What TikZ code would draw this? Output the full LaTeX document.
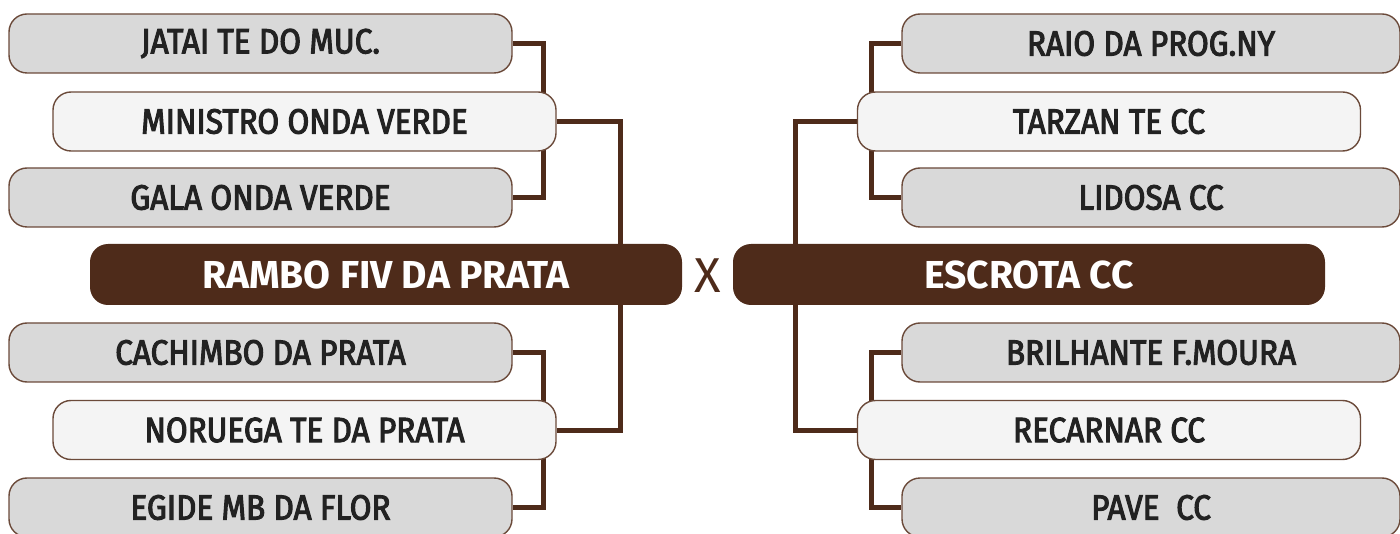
\documentclass[tikz,border=0pt]{standalone}
\usepackage{fontspec}
\setmainfont{Fira Sans}
\newfontfamily\boxfont{Fira Sans}[FakeStretch=0.9, FakeBold=3]
\newfontfamily\mainfont{Fira Sans}[FakeStretch=1.0]
\usetikzlibrary{backgrounds}
\definecolor{tbrown}{HTML}{4E2B1A}
\definecolor{boxline}{HTML}{6B4A3A}
\definecolor{gfill}{HTML}{D9D9D9}
\definecolor{lfill}{HTML}{F4F4F4}
\definecolor{txt}{HTML}{222222}
\tikzset{
  box/.style={draw=boxline, line width=1.4pt, rounded corners=18pt, minimum height=59pt, minimum width=503pt, inner sep=0pt, text=txt, font=\boxfont\fontsize{35}{40}\selectfont},
  gbox/.style={box, fill=gfill},
  lbox/.style={box, fill=lfill},
  mbox/.style={fill=tbrown, rounded corners=18pt, minimum width=592pt, minimum height=61pt, inner sep=0pt, text=white, font=\mainfont\fontsize{39}{44}\selectfont\bfseries},
  conn/.style={draw=tbrown, line width=5pt},
  vs/.style={text=tbrown, inner sep=0pt, font=\fontsize{49}{52}\selectfont}
}
\begin{document}
\begin{tikzpicture}[x=1pt, y=-1pt]
\useasboundingbox (0,0) rectangle (1400,534);
\clip (0,0) rectangle (1400,534);
% left side
\node[gbox] (jatai) at (260.5,43.5) {JATAI TE DO MUC.};
\node[lbox] (ministro) at (304.5,121.5) {MINISTRO ONDA VERDE};
\node[gbox] (gala) at (260.5,197.5) {GALA ONDA VERDE};
\node[mbox] (rambo) at (386,274.5) {RAMBO FIV DA PRATA};
\node[gbox] (cachimbo) at (260.5,352.5) {CACHIMBO DA PRATA};
\node[lbox] (noruega) at (304.5,430) {NORUEGA TE DA PRATA};
\node[gbox] (egide) at (260.5,507.5) {EGIDE MB DA FLOR};
% center
\node[vs] (vs) at (707.5,276) {X};
% right side
\node[gbox, minimum width=498pt] (raio) at (1151,43.5) {RAIO DA PROG.NY};
\node[lbox] (tarzan) at (1109,121.5) {TARZAN TE CC};
\node[gbox, minimum width=498pt] (lidosa) at (1151,197.5) {LIDOSA CC};
\node[mbox] (escrota) at (1029,274.5) {ESCROTA CC};
\node[gbox, minimum width=498pt] (brilhante) at (1151,352.5) {BRILHANTE F.MOURA};
\node[lbox] (recarnar) at (1109,430) {RECARNAR CC};
\node[gbox, minimum width=498pt] (pave) at (1151,507.5) {PAVE\ \ CC};
% connectors
\coordinate (lx) at (620,0);
\coordinate (rx) at (795,0);
\begin{pgfonlayer}{background}
\draw[conn] (jatai.east) -- ++(31,0) |- (gala.east);
\draw[conn] (cachimbo.east) -- ++(31,0) |- (egide.east);
\draw[conn] (ministro.east) -| (lx |- rambo.north);
\draw[conn] (lx |- rambo.south) |- (noruega.east);
\draw[conn] (raio.west) -- ++(-30,0) |- (lidosa.west);
\draw[conn] (brilhante.west) -- ++(-30,0) |- (pave.west);
\draw[conn] (tarzan.west) -| (rx |- escrota.north);
\draw[conn] (rx |- escrota.south) |- (recarnar.west);
\end{pgfonlayer}
\end{tikzpicture}
\end{document}
